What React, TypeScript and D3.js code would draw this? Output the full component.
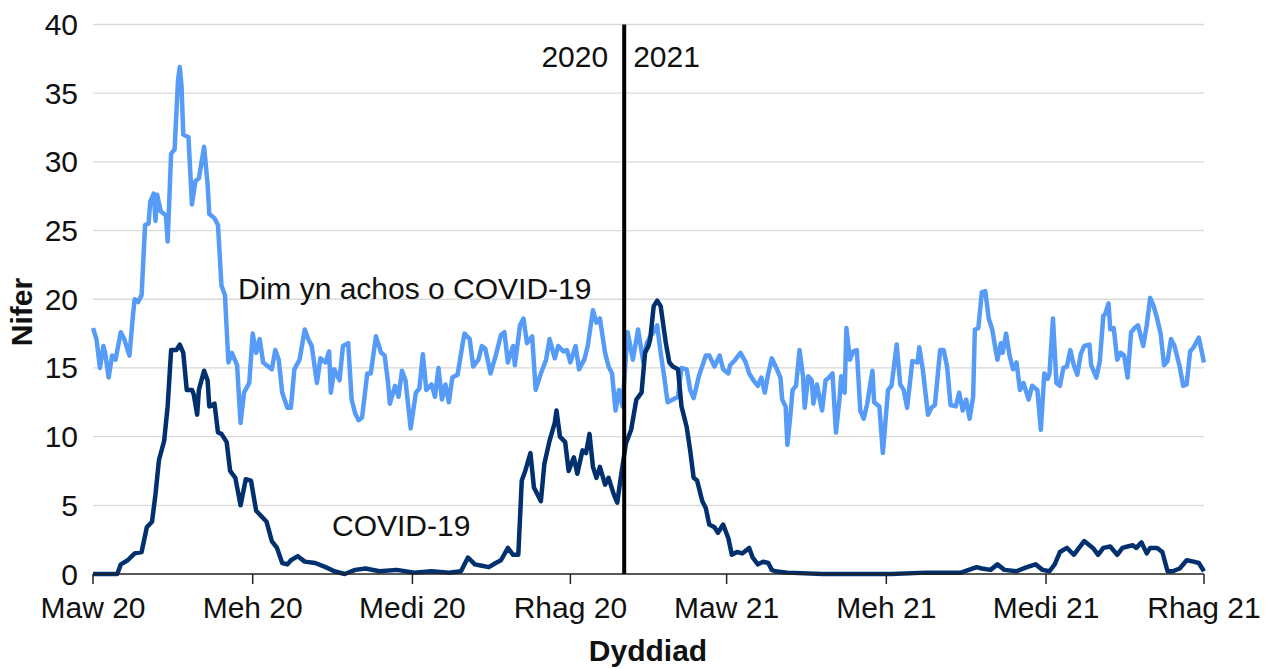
import React from "react";
import * as d3 from "d3";

// ---- data (day offset from 1 Mar 2020, value) ----
const nonCovidSeries: [number, number][] = [
  [0,17.9],[2,17.1],[4,15.0],[6,16.6],[7,16.1],[9,14.3],[11,15.9],[13,15.6],[16,17.6],[18,17.1],[21,15.9],[23,18.8],[24,20.0],[26,19.8],[28,20.3],[30,25.4],[32,25.5],[33,27.1],[35,27.7],[36,25.7],[37,27.6],[39,26.4],[42,26.1],[43,24.2],[45,30.6],[47,30.9],[49,36.0],[50,36.9],[51,35.5],[52,32.0],[55,31.8],[57,26.9],[59,28.6],[61,28.8],[64,31.1],[66,28.4],[67,26.2],[70,25.9],[72,25.4],[74,21.0],[76,20.3],[78,15.4],[80,16.1],[83,15.2],[85,11.0],[87,13.2],[90,13.9],[92,17.5],[94,16.1],[96,17.1],[98,15.4],[100,15.2],[103,14.9],[105,16.3],[107,15.6],[109,13.2],[112,12.1],[114,12.1],[116,14.9],[119,15.6],[122,17.8],[124,17.1],[126,16.6],[129,13.9],[131,15.7],[134,15.4],[136,16.2],[137,13.2],[139,14.9],[142,14.1],[144,16.6],[147,16.8],[149,12.7],[151,11.7],[153,11.2],[155,11.4],[158,14.6],[160,14.6],[163,17.3],[166,16.1],[168,15.9],[170,13.9],[171,12.4],[174,13.7],[176,12.9],[178,14.8],[180,14.1],[183,10.6],[186,13.2],[188,13.5],[190,16.0],[192,13.4],[195,13.8],[197,12.9],[199,15.0],[201,12.7],[203,13.8],[205,12.5],[207,14.3],[210,14.5],[213,16.8],[214,17.5],[217,17.1],[219,15.1],[222,15.6],[224,16.6],[226,16.4],[229,14.6],[232,15.9],[235,17.4],[237,17.6],[239,15.4],[242,16.6],[243,15.2],[246,18.1],[248,18.6],[250,16.8],[253,17.3],[255,13.4],[258,14.6],[261,15.6],[263,17.1],[266,15.7],[268,16.6],[271,16.2],[273,16.3],[275,15.4],[278,16.6],[280,14.9],[283,15.6],[285,16.6],[288,19.2],[290,18.3],[292,18.6],[295,16.1],[297,15.1],[299,14.6],[301,11.9],[303,13.4],[305,12.2],[308,17.6],[311,15.6],[314,17.8],[317,15.4],[319,16.8],[321,17.3],[323,17.6],[325,18.1],[327,16.1],[329,14.4],[331,12.5],[334,12.7],[337,12.9],[339,15.0],[342,14.9],[344,13.4],[346,12.8],[349,14.4],[353,15.9],[355,15.9],[358,15.1],[361,15.9],[363,14.9],[366,14.6],[367,15.2],[370,15.6],[373,16.1],[376,15.4],[378,14.6],[381,14.0],[383,13.7],[385,14.3],[387,13.2],[389,14.6],[391,15.7],[394,14.9],[396,14.3],[397,12.7],[399,12.2],[400,9.4],[402,11.9],[403,13.4],[405,13.7],[407,16.3],[409,14.4],[410,12.1],[412,14.4],[414,14.1],[415,12.4],[417,13.8],[419,12.5],[420,11.9],[422,14.1],[424,14.3],[426,14.6],[428,10.3],[430,12.7],[431,14.4],[433,13.2],[434,17.9],[436,15.6],[438,16.2],[440,16.3],[442,11.9],[444,11.3],[446,12.4],[449,14.8],[450,12.5],[453,12.2],[455,8.8],[458,13.4],[460,13.7],[463,16.7],[465,13.8],[467,13.4],[469,12.1],[472,15.5],[475,15.4],[476,16.5],[478,14.9],[481,11.6],[483,12.1],[485,12.3],[488,16.3],[490,16.3],[492,15.1],[494,12.3],[497,12.2],[499,13.2],[501,11.9],[503,12.7],[505,11.3],[507,12.9],[508,17.8],[510,17.9],[512,20.5],[514,20.6],[516,18.6],[518,17.8],[520,16.3],[521,15.6],[523,16.8],[524,16.1],[526,17.5],[528,15.9],[530,14.9],[532,15.4],[534,13.4],[536,13.9],[539,12.7],[541,13.7],[544,13.4],[546,10.5],[548,14.6],[550,14.2],[551,14.6],[553,18.6],[555,13.9],[557,13.7],[559,15.0],[561,15.1],[563,16.3],[565,15.2],[567,14.5],[569,16.0],[571,16.6],[574,16.7],[575,15.2],[578,14.3],[580,15.5],[582,18.8],[583,18.9],[585,19.7],[586,17.8],[588,17.9],[590,15.6],[592,16.1],[594,15.9],[596,14.3],[598,17.6],[600,17.9],[602,18.1],[605,16.6],[607,18.1],[609,20.1],[611,19.5],[613,18.6],[615,17.5],[617,15.2],[619,15.5],[621,17.1],[623,16.6],[626,15.1],[628,13.7],[630,13.8],[632,16.2],[634,16.5],[637,17.2],[640,15.4]
];

const covidSeries: [number, number][] = [
  [0,0],[14,0],[16,0.7],[20,1.0],[24,1.5],[28,1.6],[31,3.4],[34,3.8],[36,5.8],[38,8.3],[41,9.7],[43,12.2],[45,16.3],[48,16.3],[50,16.7],[52,16.1],[54,13.4],[57,13.4],[58,13.1],[60,11.6],[61,13.4],[64,14.8],[66,14.1],[67,12.2],[70,12.4],[72,10.3],[74,10.2],[77,9.6],[79,7.5],[82,7.0],[85,5.0],[88,6.9],[91,6.8],[94,4.6],[97,4.2],[100,3.8],[103,2.4],[106,1.9],[109,0.8],[112,0.7],[114,1.0],[118,1.3],[122,0.9],[128,0.8],[134,0.5],[139,0.2],[145,0],[151,0.3],[157,0.4],[165,0.2],[175,0.3],[185,0.1],[195,0.2],[205,0.1],[212,0.2],[216,1.2],[220,0.7],[224,0.6],[228,0.5],[232,0.8],[235,1.0],[239,1.9],[242,1.4],[245,1.4],[247,6.8],[249,7.5],[252,8.8],[254,6.3],[256,5.8],[258,5.3],[260,8.0],[263,9.7],[266,11.0],[267,11.9],[269,10.0],[272,9.6],[274,7.5],[277,8.5],[279,7.3],[282,9.0],[284,8.8],[286,10.2],[288,7.8],[290,7.0],[292,7.8],[295,6.5],[297,7.0],[300,5.8],[302,5.2],[304,7.0],[307,9.5],[310,10.5],[313,12.7],[316,13.2],[318,16.1],[320,16.6],[321,17.1],[323,19.5],[325,19.9],[327,19.5],[328,18.6],[330,16.8],[332,15.4],[334,15.1],[337,14.9],[339,12.2],[342,10.7],[344,9.0],[346,7.0],[348,6.8],[351,5.3],[353,4.8],[355,3.6],[358,3.4],[360,3.0],[363,3.6],[366,2.6],[368,1.4],[371,1.6],[374,1.5],[378,1.9],[380,1.2],[383,0.7],[386,0.9],[389,0.8],[391,0.3],[393,0.2],[400,0.1],[420,0],[460,0],[480,0.1],[500,0.1],[509,0.5],[512,0.4],[517,0.3],[521,0.7],[525,0.3],[532,0.2],[538,0.5],[543,0.7],[547,0.3],[551,0.2],[554,0.7],[557,1.6],[561,1.9],[565,1.4],[568,1.9],[571,2.4],[574,2.1],[576,1.9],[579,1.4],[582,1.9],[586,2.0],[590,1.4],[593,1.9],[596,2.0],[599,2.1],[601,1.9],[604,2.3],[607,1.5],[609,1.9],[613,1.9],[616,1.6],[619,0.2],[622,0.2],[626,0.4],[630,1.0],[634,0.9],[637,0.8],[640,0.2]
];

const yTicks = [0, 5, 10, 15, 20, 25, 30, 35, 40];
const xTickMonths: [number, number][] = [[2020,2],[2020,5],[2020,8],[2020,11],[2021,2],[2021,5],[2021,8],[2021,11]];
const xTickLabels = ["Maw 20", "Meh 20", "Medi 20", "Rhag 20", "Maw 21", "Meh 21", "Medi 21", "Rhag 21"];
const yearDivider: [number, number, number] = [2021, 0, 1];
const yearLabels = ["2020", "2021"];
const seriesLabels = ["Dim yn achos o COVID-19", "COVID-19"];

const W = 1269, H = 669;
const FONT = "'Liberation Sans', Arial, sans-serif";
const FS = 30;
const TXT = "#111";
const start = new Date(Date.UTC(2020, 2, 1));
const dayToDate = (d: number) => new Date(start.getTime() + d * 86400000);

export default function App() {
  const x = d3.scaleUtc().domain([start, new Date(Date.UTC(2021, 11, 1))]).range([93, 1204]);
  const y = d3.scaleLinear().domain([0, 40]).range([574, 24.5]);
  const line = d3.line<[number, number]>()
    .x((p) => x(dayToDate(p[0])))
    .y((p) => y(p[1]));
  const divX = x(new Date(Date.UTC(...yearDivider)));
  const [x0, x1] = x.range();

  return (
    <div style={{ position: "fixed", left: 0, top: 0 }}>
      <svg width={W} height={H} style={{ display: "block", background: "#fff" }}>
        {yTicks.filter((t) => t > 0).map((t) => (
          <line key={t} x1={x0} x2={x1} y1={y(t)} y2={y(t)} stroke="#d9d9d9" strokeWidth={1.3} />
        ))}
        {yTicks.map((t) => (
          <text key={"l" + t} x={78} y={y(t)} dy="0.35em" textAnchor="end" fontFamily={FONT} fontSize={FS} fill={TXT}>
            {t}
          </text>
        ))}
        <path d={line(nonCovidSeries) || ""} fill="none" stroke="#559BF7" strokeWidth={4.5} strokeLinejoin="round" />
        <path d={line(covidSeries) || ""} fill="none" stroke="#00306E" strokeWidth={4.5} strokeLinejoin="round" />
        <line x1={x0} x2={x1} y1={y(0)} y2={y(0)} stroke="#222" strokeWidth={1.5} />
        {xTickMonths.map(([yr, m], i) => {
          const tx = x(new Date(Date.UTC(yr, m, 1)));
          return (
            <g key={i}>
              <line x1={tx} x2={tx} y1={y(0)} y2={y(0) + 10} stroke="#222" strokeWidth={1.5} />
              <text x={tx} y={618} textAnchor="middle" fontFamily={FONT} fontSize={FS} fill={TXT}>
                {xTickLabels[i]}
              </text>
            </g>
          );
        })}
        <line x1={divX} x2={divX} y1={y(40)} y2={y(0)} stroke="#000" strokeWidth={4} />
        <text x={divX - 16} y={67} textAnchor="end" fontFamily={FONT} fontSize={FS} fill={TXT}>{yearLabels[0]}</text>
        <text x={divX + 9} y={67} textAnchor="start" fontFamily={FONT} fontSize={FS} fill={TXT}>{yearLabels[1]}</text>
        <text x={238} y={299} fontFamily={FONT} fontSize={FS} fill={TXT}>{seriesLabels[0]}</text>
        <text x={332} y={536} fontFamily={FONT} fontSize={FS} fill={TXT}>{seriesLabels[1]}</text>
        <text x={648} y={661} textAnchor="middle" fontFamily={FONT} fontSize={FS} fontWeight="bold" fill={TXT}>Dyddiad</text>
        <text transform={`translate(32,312) rotate(-90)`} textAnchor="middle" fontFamily={FONT} fontSize={FS} fontWeight="bold" fill={TXT}>Nifer</text>
      </svg>
    </div>
  );
}
